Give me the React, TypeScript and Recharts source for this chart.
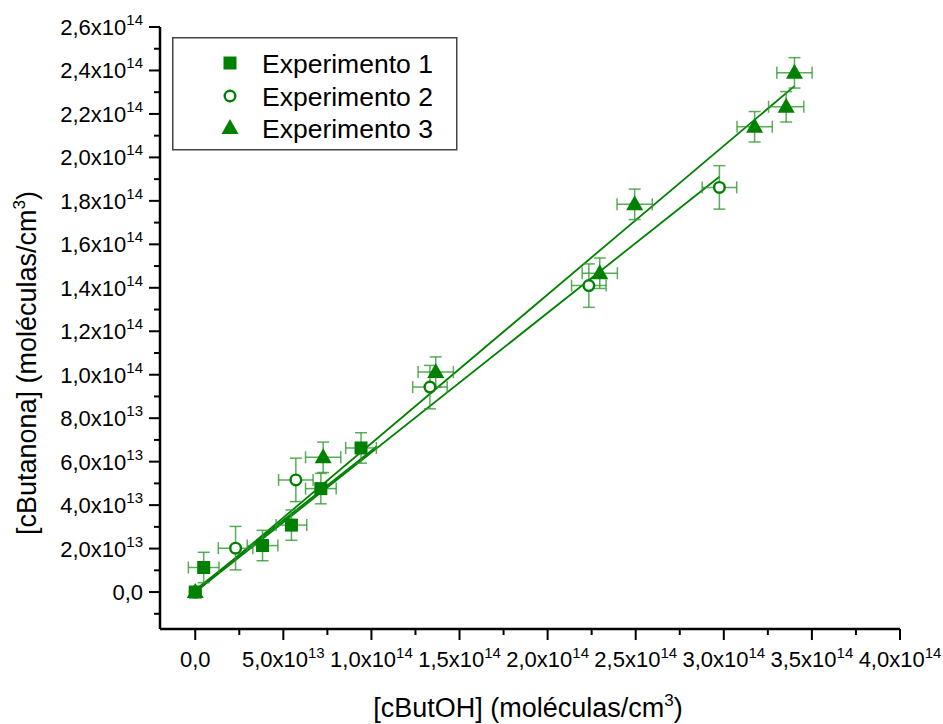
import React from 'react';
import {
  ScatterChart,
  Scatter,
  XAxis,
  YAxis,
  ErrorBar,
  ReferenceLine,
  Legend,
  Label,
} from 'recharts';

const GREEN = '#008000';
const ERR_GREEN = '#2e9a2e';
const FONT = 'Arial, "Liberation Sans", sans-serif';

// [cButOH] / [cButanona] pairs, moléculas/cm3
const exp1X = [0, 4.8e12, 3.82e13, 5.46e13, 7.13e13, 9.41e13];
const exp1Y = [0, 1.13e13, 2.14e13, 3.08e13, 4.76e13, 6.63e13];
const exp2X = [0, 2.29e13, 5.71e13, 1.332e14, 2.234e14, 2.975e14];
const exp2Y = [0, 2.02e13, 5.16e13, 9.43e13, 1.41e14, 1.862e14];
const exp3X = [0, 7.26e13, 1.365e14, 2.296e14, 2.494e14, 3.175e14, 3.354e14, 3.401e14];
const exp3Y = [0, 6.2e13, 1.012e14, 1.467e14, 1.784e14, 2.141e14, 2.233e14, 2.389e14];

// symmetric uncertainties (the blank point at the origin has none)
const exp1ErrX = [0, 8.7e12, 8.7e12, 8.7e12, 8.7e12, 8.7e12];
const exp1ErrY = [0, 7e12, 7e12, 7e12, 7e12, 7e12];
const exp2ErrX = [0, 9.8e12, 9.8e12, 9.8e12, 9.8e12, 9.8e12];
const exp2ErrY = [0, 1e13, 1e13, 1e13, 1e13, 1e13];
const exp3ErrX = [0, 1e13, 1e13, 1e13, 1e13, 1e13, 1e13, 1e13];
const exp3ErrY = [0, 7e12, 7e12, 7e12, 7e12, 7e12, 7e12, 7e12];

// linear fit lines (start / end)
const fit1 = [{ x: 0, y: 1e12 }, { x: 1.03e14, y: 6.7e13 }];
const fit2 = [{ x: 0, y: 0 }, { x: 2.975e14, y: 1.911e14 }];
const fit3 = [{ x: 0, y: 0 }, { x: 3.401e14, y: 2.328e14 }];

const legendLabels = ['Experimento 1', 'Experimento 2', 'Experimento 3'];

const xMajor = [0, 5e13, 1e14, 1.5e14, 2e14, 2.5e14, 3e14, 3.5e14, 4e14];
const xMinor = [2.5e13, 7.5e13, 1.25e14, 1.75e14, 2.25e14, 2.75e14, 3.25e14, 3.75e14];
const yMajor = [0, 2e13, 4e13, 6e13, 8e13, 1e14, 1.2e14, 1.4e14, 1.6e14, 1.8e14, 2e14, 2.2e14, 2.4e14, 2.6e14];
const yMinor = [-1e13, 1e13, 3e13, 5e13, 7e13, 9e13, 1.1e14, 1.3e14, 1.5e14, 1.7e14, 1.9e14, 2.1e14, 2.3e14, 2.5e14];

const xTicks = [...xMajor, ...xMinor].sort((a, b) => a - b);
const yTicks = [...yMajor, ...yMinor].sort((a, b) => a - b);

const toPoints = (xs: number[], ys: number[], ex: number[], ey: number[]) =>
  xs.map((x, i) => ({ x, y: ys[i], ex: ex[i], ey: ey[i] }));

const data1 = toPoints(exp1X, exp1Y, exp1ErrX, exp1ErrY);
const data2 = toPoints(exp2X, exp2Y, exp2ErrX, exp2ErrY);
const data3 = toPoints(exp3X, exp3Y, exp3ErrX, exp3ErrY);

// "2,6x10" + "14"
const sciParts = (v: number): [string, string] => {
  if (v === 0) return ['0,0', ''];
  const e = Math.floor(Math.log10(Math.abs(v)) + 1e-9);
  const m = v / Math.pow(10, e);
  return [m.toFixed(1).replace('.', ',') + 'x10', String(e)];
};

const XTick = (props: any) => {
  const { x, y, payload } = props;
  const major = xMajor.includes(payload.value);
  const [m, e] = sciParts(payload.value);
  return (
    <g>
      <line x1={x} x2={x} y1={y} y2={y + (major ? 11 : 6)} stroke="#000" strokeWidth={2} />
      {major && (
        <text x={x} y={y + 38} textAnchor="middle" fontFamily={FONT} fontSize={22} fill="#000">
          {m}
          {e && (
            <tspan dy={-9} fontSize={15}>
              {e}
            </tspan>
          )}
        </text>
      )}
    </g>
  );
};

const YTick = (props: any) => {
  const { x, y, payload } = props;
  const major = yMajor.includes(payload.value);
  const [m, e] = sciParts(payload.value);
  return (
    <g>
      <line x1={x} x2={x - (major ? 11 : 6)} y1={y} y2={y} stroke="#000" strokeWidth={2} />
      {major && (
        <text x={x - 17} y={y + 8} textAnchor="end" fontFamily={FONT} fontSize={22} fill="#000">
          {m}
          {e && (
            <tspan dy={-10} fontSize={15}>
              {e}
            </tspan>
          )}
        </text>
      )}
    </g>
  );
};

const SquareMark = ({ cx, cy }: any) => (
  <rect x={cx - 6.5} y={cy - 6.5} width={13} height={13} fill={GREEN} />
);

const CircleMark = ({ cx, cy }: any) => (
  <circle cx={cx} cy={cy} r={5.3} fill="#fff" stroke={GREEN} strokeWidth={2.4} />
);

const TriangleMark = ({ cx, cy }: any) => (
  <path d={`M${cx},${cy - 9} L${cx + 8.5},${cy + 6} L${cx - 8.5},${cy + 6} Z`} fill={GREEN} />
);

const markers = [SquareMark, CircleMark, TriangleMark];

const LegendBox = () => (
  <svg width={286} height={114}>
    <rect x={0.75} y={0.75} width={284} height={112} fill="#fff" stroke="#444" strokeWidth={1.5} />
    {legendLabels.map((label, i) => {
      const Mark = markers[i];
      const cy = [26, 59, 91][i];
      return (
        <g key={label}>
          <Mark cx={58} cy={cy} />
          <text x={90} y={cy + 9.5} fontFamily={FONT} fontSize={26.5} fill="#000">
            {label}
          </text>
        </g>
      );
    })}
  </svg>
);

const XTitle = () => (
  <text x={528} y={717} textAnchor="middle" fontFamily={FONT} fontSize={27} fill="#000">
    [cButOH] (moléculas/cm
    <tspan dy={-11} fontSize={17}>
      3
    </tspan>
    <tspan dy={11}>)</tspan>
  </text>
);

const YTitle = () => (
  <text
    x={36}
    y={363}
    transform="rotate(-90 36 363)"
    textAnchor="middle"
    fontFamily={FONT}
    fontSize={27}
    fill="#000"
  >
    [cButanona] (moléculas/cm
    <tspan dy={-11} fontSize={17}>
      3
    </tspan>
    <tspan dy={11}>)</tspan>
  </text>
);

const errProps = { stroke: ERR_GREEN, strokeOpacity: 0.8, strokeWidth: 1.5, width: 6, isAnimationActive: false };

export default function App() {
  return (
    <div style={{ position: 'absolute', left: 0, top: 0, background: '#fff' }}>
      <ScatterChart width={943} height={724} margin={{ top: 27, right: 43, bottom: 0, left: 0 }}>
        <XAxis
          type="number"
          dataKey="x"
          domain={[-2e13, 4e14]}
          ticks={xTicks}
          interval={0}
          allowDataOverflow
          tickSize={0}
          tickMargin={0}
          tickLine={false}
          axisLine={{ stroke: '#000', strokeWidth: 2.5 }}
          height={95}
          tick={<XTick />}
        >
          <Label content={<XTitle />} />
        </XAxis>
        <YAxis
          type="number"
          dataKey="y"
          domain={[-1.7e13, 2.6e14]}
          ticks={yTicks}
          interval={0}
          allowDataOverflow
          tickSize={0}
          tickMargin={0}
          tickLine={false}
          axisLine={{ stroke: '#000', strokeWidth: 2.5 }}
          width={160}
          tick={<YTick />}
        >
          <Label content={<YTitle />} />
        </YAxis>
        <XAxis
          xAxisId="top"
          orientation="top"
          type="number"
          domain={[-2e13, 4e14]}
          allowDataOverflow
          height={0}
          tick={false}
          tickLine={false}
          axisLine={{ stroke: '#000', strokeWidth: 2 }}
        />
        <YAxis
          yAxisId="right"
          orientation="right"
          type="number"
          domain={[-1.7e13, 2.6e14]}
          allowDataOverflow
          width={0}
          tick={false}
          tickLine={false}
          axisLine={{ stroke: '#000', strokeWidth: 2.5 }}
        />

        <ReferenceLine segment={fit1} stroke={GREEN} strokeWidth={1.8} />
        <ReferenceLine segment={fit2} stroke={GREEN} strokeWidth={1.8} />
        <ReferenceLine segment={fit3} stroke={GREEN} strokeWidth={1.8} />

        <Scatter name="Experimento 1" data={data1} shape={SquareMark} isAnimationActive={false}>
          <ErrorBar dataKey="ex" direction="x" {...errProps} />
          <ErrorBar dataKey="ey" direction="y" {...errProps} />
        </Scatter>
        <Scatter name="Experimento 2" data={data2} shape={CircleMark} isAnimationActive={false}>
          <ErrorBar dataKey="ex" direction="x" {...errProps} />
          <ErrorBar dataKey="ey" direction="y" {...errProps} />
        </Scatter>
        <Scatter name="Experimento 3" data={data3} shape={TriangleMark} isAnimationActive={false}>
          <ErrorBar dataKey="ex" direction="x" {...errProps} />
          <ErrorBar dataKey="ey" direction="y" {...errProps} />
        </Scatter>

        <Legend
          layout="vertical"
          align="center"
          verticalAlign="middle"
          wrapperStyle={{ left: 172, top: 37, width: 286, height: 114 }}
          content={<LegendBox />}
        />
      </ScatterChart>
    </div>
  );
}
